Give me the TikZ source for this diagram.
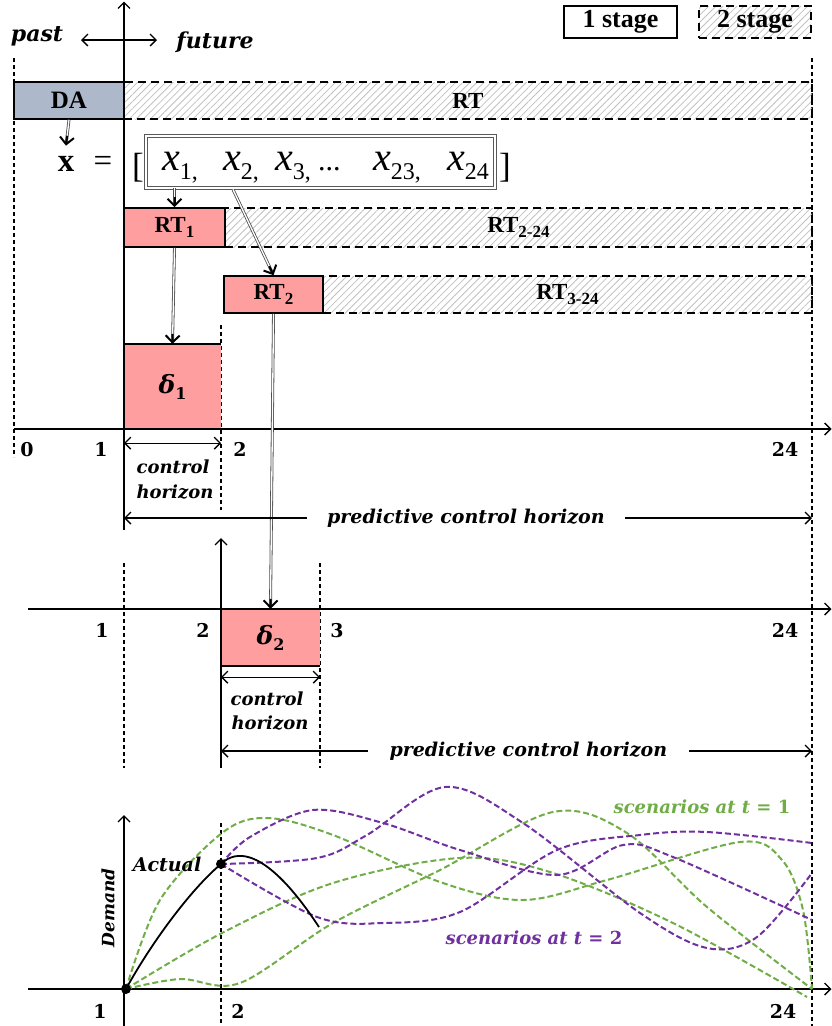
\documentclass[tikz,border=0pt]{standalone}
\usepackage{fontspec}
\setmainfont{Liberation Serif}
\newfontfamily\camfam{DejaVu Serif}
\usetikzlibrary{arrows.meta,patterns.meta,calc}

\definecolor{pinkfill}{RGB}{255,158,158}
\definecolor{dafill}{RGB}{173,185,202}
\definecolor{scgreen}{RGB}{112,173,71}
\definecolor{scpurple}{RGB}{112,48,160}
\definecolor{hatchgray}{RGB}{192,192,192}

\newcommand{\tbf}[1]{\fontsize{#1}{#1}\selectfont\bfseries}
\newcommand{\trm}[1]{\fontsize{#1}{#1}\selectfont}
\newcommand{\camb}[1]{\camfam\fontsize{#1}{#1}\selectfont\bfseries\itshape}
\newcommand{\camn}[1]{\camfam\fontsize{#1}{#1}\selectfont\bfseries}
\newcommand{\rtsub}[1]{RT\raisebox{-5pt}{\fontsize{17}{17}\selectfont #1}}
\newcommand{\xent}[1]{{\fontsize{40}{40}\selectfont\itshape x}\raisebox{-9pt}{\fontsize{24}{24}\selectfont #1}}
\newcommand{\dlt}[1]{{\camb{25}δ}\raisebox{-6pt}{\camn{16}#1}}
\newcommand{\dbl}[2]{\draw[dblshaft] #1 -- #2; \draw[dbltip] ($#2!10pt!#1$) -- #2;}

\begin{document}
\begin{tikzpicture}[x=1pt,y=-1pt,
  >={Straight Barb[length=6pt,width=12pt,line width=1.4pt]},
  ax/.style={line width=1.8pt,->},
  thinax/.style={line width=1.3pt,->},
  vdash/.style={line width=1.1pt,dash pattern=on 4pt off 3pt},
  sbox/.style={draw,line width=1.6pt,inner sep=0pt},
  hbox/.style={draw,line width=1.6pt,dash pattern=on 8pt off 5pt,inner sep=0pt,
    pattern={Lines[angle=45,distance=5pt,line width=0.8pt]},pattern color=hatchgray},
  pinkbox/.style={sbox,fill=pinkfill},
  lab/.style={inner sep=0pt,anchor=base},
  dblshaft/.style={draw=black!70,line width=0.8pt,double=white,double distance=1.3pt,shorten >=2pt},
  dbltip/.style={line width=2pt,-{Straight Barb[length=7pt,width=14pt]}},
  harrow/.style={line width=1.4pt,<->},
  gdash/.style={scgreen,line width=2pt,dash pattern=on 6pt off 3pt},
  pdash/.style={scpurple,line width=2pt,dash pattern=on 6pt off 3pt},
]
\useasboundingbox (0,0) rectangle (832,1026);

% ---------- legend ----------
\node[sbox,minimum width=113pt,minimum height=32pt] (leg1) at (620.5,22) {\tbf{26}1 stage};
\node[hbox,minimum width=112pt,minimum height=32pt] (leg2) at (755,22) {\tbf{26}2 stage};

% ---------- past / future ----------
\node[lab] (past) at (37,41) {\camb{22}past};
\node[lab] (future) at (215,48) {\camb{22}future};
\coordinate (pf1) at (81,40);
\coordinate (pf2) at (157,40);
\draw[harrow] (pf1) -- (pf2);

% ---------- guide lines ----------
\draw[vdash] (14,58) -- (14,457);
\draw[vdash] (812,58) -- (812,1026);
\draw[vdash] (221,325) -- (221,510);
\draw[vdash] (124,563) -- (124,768);
\draw[vdash] (320,563) -- (320,768);
\draw[vdash] (221,823) -- (221,1026);

% ---------- hatched boxes ----------
\node[hbox,minimum width=688pt,minimum height=37pt] (RT) at (468,100.5) {\tbf{23}RT};
\node[hbox,minimum width=587pt,minimum height=39pt] (RT224) at (518.5,227.5) {\tbf{23}\rtsub{2-24}};
\node[hbox,minimum width=489pt,minimum height=37pt] (RT324) at (567.5,294.5) {\tbf{23}\rtsub{3-24}};

% ---------- solid boxes ----------
\node[sbox,fill=dafill,minimum width=110pt,minimum height=37pt] (DA) at (69,100.5) {\tbf{25}DA};
\node[pinkbox,minimum width=101pt,minimum height=39pt] (RT1) at (174.5,227.5) {\tbf{23}\rtsub{1}};
\node[pinkbox,minimum width=99pt,minimum height=37pt] (RT2) at (273.5,294.5) {\tbf{23}\rtsub{2}};

% ---------- x vector ----------
\node[lab] (xbold) at (66,171) {\tbf{33}x};
\node[lab] (eq) at (103,171) {\trm{33}=};
\node[lab] (lb) at (138,177) {\trm{35}[};
\node[lab] (rb) at (505,177) {\trm{35}]};
\node[draw=black!65,double=white,double distance=2pt,line width=0.9pt,
      minimum width=349pt,minimum height=52pt,inner sep=0pt] (xbox) at (320.5,162) {};
\node[anchor=base west,inner sep=0pt] (xv1) at (162,170) {\xent{1,}};
\node[anchor=base west,inner sep=0pt] (xv2) at (223,170) {\xent{2,}};
\node[anchor=base west,inner sep=0pt] (xv3) at (275,170) {\xent{3,}};
\node[anchor=base west,inner sep=0pt] (xdots) at (318,170) {\trm{30}...};
\node[anchor=base west,inner sep=0pt] (xv23) at (373,170) {\xent{23,}};
\node[anchor=base west,inner sep=0pt] (xv24) at (447,170) {\xent{24}};

% ---------- delta boxes ----------
\node[fill=pinkfill,minimum width=97pt,minimum height=85pt,inner sep=0pt] (d1) at (172.5,386.5) {\dlt{1}};
\draw[line width=1.6pt] (d1.north west) -- (d1.north east);
\node[fill=pinkfill,minimum width=99pt,minimum height=57pt,inner sep=0pt] (d2) at (270.5,637.5) {\dlt{2}};
\draw[line width=1.6pt] (d2.south west) -- (d2.south east);

% ---------- axes ----------
\draw[ax] (124,530) -- (124,1.5);
\draw[ax] (14,429) -- (831.5,429);
\draw[ax] (28,609) -- (831.5,609);
\draw[ax] (28,989) -- (831.5,989);
\draw[thinax] (221,768) -- (221,538);
\draw[thinax] (124,1026) -- (124,815);

% ---------- connectors ----------
\coordinate (x2b) at ($(xv2.west |- xbox.south)+(10,1)$);
\dbl{(DA.south)}{([yshift=10pt]xbold.north)}
\dbl{(RT1.north |- xbox.south)}{(RT1.north)}
\dbl{(x2b)}{(RT2.north)}
\dbl{(RT1.south)}{(d1.north)}
\dbl{(RT2.south)}{(d2.north)}

% ---------- horizons (section 1) ----------
\draw[harrow] ([yshift=-14pt]d1.south west) -- ([yshift=-14pt]d1.south east);
\node[lab] (ch1a) at (173,473) {\camb{18}control};
\node[lab] (ch1b) at (175,498) {\camb{18}horizon};
\draw[harrow] (124,518) -- node[fill=white,inner xsep=20pt,inner ysep=1pt,pos=0.497] (pch1) {\camb{19}predictive control horizon} (812,518);
\node[lab] at (27,456) {\camn{19}0};
\node[lab] at (101,456) {\camn{19}1};
\node[lab] at (240,456) {\camn{19}2};
\node[lab] at (785,456) {\camn{19}24};

% ---------- horizons (section 2) ----------
\draw[harrow] ([yshift=-11pt]d2.south west) -- ([yshift=-11pt]d2.south east);
\node[lab] (ch2a) at (267,705) {\camb{18}control};
\node[lab] (ch2b) at (270,729) {\camb{18}horizon};
\draw[harrow] (221,751) -- node[fill=white,inner xsep=22pt,inner ysep=1pt,pos=0.52] (pch2) {\camb{19}predictive control horizon} (812,751);
\node[lab] at (102,637) {\camn{19}1};
\node[lab] at (203,637) {\camn{19}2};
\node[lab] at (337,637) {\camn{19}3};
\node[lab] at (785,637) {\camn{19}24};

% ---------- demand section ----------
\draw[gdash] plot[smooth,tension=0.55] coordinates {(126,989) (160,900) (222,833) (267,818) (333,835) (440,882) (523,900) (607,880) (740,842) (782,860) (803,910) (812,989)};
\draw[gdash] plot[smooth,tension=0.55] coordinates {(126,989) (222,933) (333,883) (460,858) (550,872) (673,923) (807,997)};
\draw[gdash] plot[smooth,tension=0.55] coordinates {(126,989) (180,979) (240,983) (333,923) (440,870) (553,812) (627,833) (707,907) (812,989)};
\draw[pdash] plot[smooth,tension=0.55] coordinates {(221,864) (250,837) (313,810) (383,823) (460,850) (557,875) (623,845) (673,857) (812,920)};
\draw[pdash] plot[smooth,tension=0.55] coordinates {(221,864) (317,858) (367,835) (445,787) (523,823) (640,913) (707,948) (757,937) (812,873)};
\draw[pdash] plot[smooth,tension=0.55] coordinates {(221,864) (317,917) (383,923) (460,912) (557,850) (640,835) (707,832) (812,843)};
\draw[line width=1.8pt] (126,989) .. controls (150,945) and (190,890) .. (221,864)
  .. controls (235,850) and (265,845) .. (319,927);
\fill (126,989) circle (5pt);
\fill (221,864) circle (5pt);

\node[lab] (actual) at (167,871) {\camb{19}Actual};
\node[inner sep=0pt,rotate=90] (demand) at (108,908) {\camb{17}Demand};
\node[lab,text=scgreen] (sc1) at (702,813) {\camb{18}scenarios at t {\upshape=} {\upshape 1}};
\node[lab,text=scpurple] (sc2) at (534,944) {\camb{18}scenarios at t {\upshape=} {\upshape 2}};
\node[lab] at (100,1018) {\camn{19}1};
\node[lab] at (238,1018) {\camn{19}2};
\node[lab] at (783,1018) {\camn{19}24};
\end{tikzpicture}
\end{document}
